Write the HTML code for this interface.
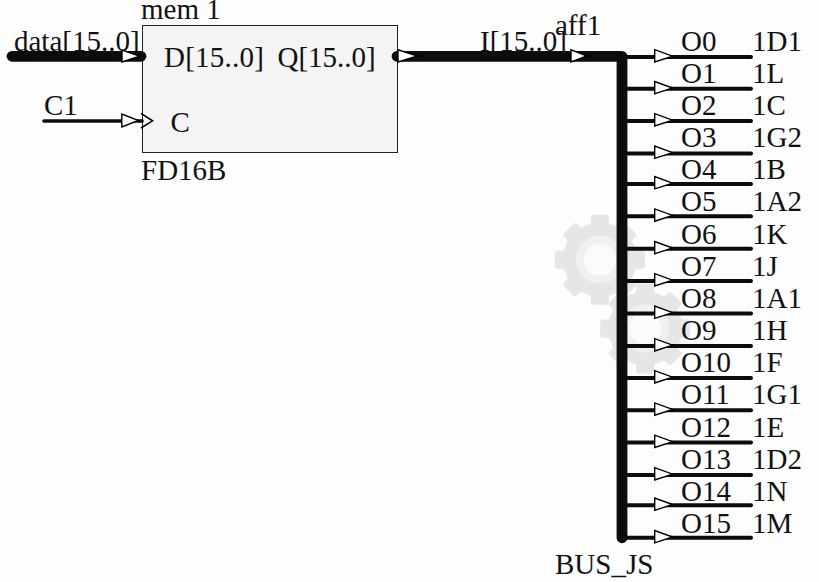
<!DOCTYPE html>
<html><head><meta charset="utf-8"><style>
html,body{margin:0;padding:0;background:#fdfdfd;overflow:hidden;width:819px;height:582px;}
svg{display:block;}
text{font-family:"Liberation Serif",serif;font-size:29px;fill:#111;}
.w{stroke:#0c0c0c;stroke-width:4;stroke-linecap:round;}
.bus{stroke:#0c0c0c;stroke-width:10.8;stroke-linecap:round;fill:none;stroke-linejoin:round;}
.tri{fill:#fff;stroke:#000;stroke-width:1.4;stroke-linejoin:miter;}
</style></head><body>
<svg width="819" height="582" viewBox="0 0 819 582">
<defs><filter id="bl" x="-10%" y="-10%" width="120%" height="120%"><feGaussianBlur stdDeviation="0.45"/></filter></defs>
<g filter="url(#bl)">
<g fill="#e6e6e6">
<path d="M564.41,249.26 L564.16,249.80 L563.91,250.10 L563.44,250.46 L562.88,250.66 L562.49,250.70 L557.38,250.70 L556.86,250.76 L556.40,250.91 L555.78,251.30 L555.30,251.85 L555.00,252.52 L554.90,253.22 L554.90,266.18 L554.96,266.74 L555.17,267.33 L555.44,267.75 L555.85,268.16 L556.40,268.49 L556.86,268.64 L557.42,268.70 L562.68,268.71 L563.26,268.86 L563.77,269.16 L564.04,269.44 L564.34,269.96 L565.05,272.14 L565.71,273.84 L566.46,275.54 L567.57,277.78 L567.65,278.16 L567.66,278.56 L567.52,279.14 L567.33,279.49 L567.08,279.79 L564.17,282.70 L563.73,283.31 L563.55,283.77 L563.46,284.40 L563.52,284.98 L563.73,285.58 L563.91,285.88 L564.21,286.23 L573.37,295.39 L573.80,295.75 L574.24,295.97 L574.71,296.10 L575.35,296.13 L575.83,296.05 L576.37,295.82 L576.94,295.39 L579.96,292.39 L580.46,292.08 L580.84,291.97 L581.24,291.93 L581.63,291.98 L582.01,292.09 L584.06,293.14 L585.72,293.87 L587.46,294.55 L589.64,295.26 L590.00,295.44 L590.30,295.69 L590.56,295.99 L590.74,296.34 L590.89,296.92 L590.90,302.18 L590.94,302.64 L591.02,302.97 L591.30,303.55 L591.78,304.10 L592.27,304.43 L592.86,304.64 L593.42,304.70 L606.38,304.70 L606.94,304.64 L607.53,304.43 L608.02,304.10 L608.36,303.75 L608.63,303.33 L608.84,302.74 L608.90,302.18 L608.91,296.92 L609.06,296.34 L609.36,295.83 L609.64,295.56 L610.16,295.26 L612.34,294.55 L614.04,293.89 L615.74,293.14 L617.98,292.03 L618.36,291.95 L618.76,291.94 L619.15,292.02 L619.69,292.27 L619.99,292.52 L622.90,295.43 L623.22,295.69 L623.65,295.93 L624.21,296.10 L624.84,296.13 L625.42,296.02 L626.08,295.69 L626.43,295.39 L635.59,286.23 L635.95,285.80 L636.17,285.36 L636.32,284.74 L636.33,284.25 L636.22,283.68 L636.02,283.23 L635.59,282.66 L632.59,279.64 L632.37,279.32 L632.22,278.95 L632.13,278.36 L632.18,277.97 L632.29,277.59 L633.34,275.54 L634.07,273.88 L634.75,272.14 L635.46,269.96 L635.64,269.60 L635.89,269.30 L636.19,269.04 L636.73,268.79 L637.12,268.71 L642.38,268.70 L642.84,268.66 L643.17,268.58 L643.75,268.30 L644.30,267.82 L644.63,267.33 L644.84,266.74 L644.90,266.18 L644.90,253.22 L644.84,252.66 L644.63,252.07 L644.30,251.58 L643.95,251.24 L643.40,250.91 L642.94,250.76 L642.38,250.70 L637.12,250.69 L636.54,250.54 L636.03,250.24 L635.64,249.80 L635.46,249.44 L634.75,247.26 L634.09,245.56 L633.34,243.86 L632.23,241.62 L632.13,241.04 L632.17,240.64 L632.28,240.26 L632.47,239.91 L632.72,239.61 L635.63,236.70 L635.89,236.38 L636.13,235.95 L636.30,235.39 L636.33,234.76 L636.22,234.18 L635.89,233.52 L635.59,233.17 L626.43,224.01 L626.00,223.65 L625.56,223.43 L625.09,223.30 L624.45,223.27 L623.97,223.35 L623.43,223.58 L622.86,224.01 L619.84,227.01 L619.34,227.32 L618.96,227.43 L618.56,227.47 L618.17,227.42 L617.79,227.31 L615.74,226.26 L614.08,225.53 L612.34,224.85 L610.16,224.14 L609.80,223.96 L609.50,223.71 L609.14,223.24 L608.99,222.87 L608.91,222.48 L608.90,217.22 L608.86,216.76 L608.78,216.43 L608.45,215.77 L608.02,215.30 L607.53,214.97 L606.94,214.76 L606.38,214.70 L593.42,214.70 L592.86,214.76 L592.27,214.97 L591.85,215.24 L591.44,215.65 L591.17,216.07 L590.96,216.66 L590.90,217.22 L590.89,222.48 L590.74,223.06 L590.44,223.57 L590.16,223.84 L589.64,224.14 L587.46,224.85 L585.76,225.51 L584.06,226.26 L581.82,227.37 L581.44,227.45 L581.04,227.46 L580.46,227.32 L580.11,227.13 L579.81,226.88 L576.90,223.97 L576.58,223.71 L576.15,223.47 L575.59,223.30 L574.86,223.28 L574.15,223.47 L573.60,223.80 L564.21,233.17 L563.85,233.60 L563.63,234.04 L563.48,234.66 L563.47,235.15 L563.58,235.72 L563.78,236.17 L564.21,236.74 L567.21,239.76 L567.52,240.26 L567.66,240.84 L567.65,241.24 L567.51,241.81 L566.46,243.86 L565.73,245.52 L565.05,247.26 L564.41,249.26Z"/>
<path d="M609.71,318.06 L609.46,318.60 L609.07,319.04 L608.56,319.34 L608.18,319.46 L607.79,319.50 L602.68,319.50 L602.16,319.56 L601.70,319.71 L601.08,320.10 L600.60,320.65 L600.30,321.32 L600.20,322.02 L600.20,334.98 L600.26,335.54 L600.47,336.13 L600.74,336.55 L601.15,336.96 L601.70,337.29 L602.16,337.44 L602.72,337.50 L607.98,337.51 L608.56,337.66 L609.07,337.96 L609.34,338.24 L609.64,338.76 L610.35,340.94 L611.01,342.64 L611.76,344.34 L612.87,346.58 L612.95,346.96 L612.93,347.56 L612.82,347.94 L612.63,348.29 L612.38,348.59 L609.47,351.50 L609.03,352.11 L608.85,352.57 L608.76,353.20 L608.82,353.78 L609.03,354.38 L609.21,354.68 L609.51,355.03 L618.67,364.19 L619.10,364.55 L619.54,364.77 L620.01,364.90 L620.65,364.93 L621.13,364.85 L621.67,364.62 L622.24,364.19 L625.26,361.19 L625.76,360.88 L626.14,360.77 L626.54,360.73 L626.93,360.78 L627.31,360.89 L629.36,361.94 L631.02,362.67 L632.76,363.35 L634.94,364.06 L635.30,364.24 L635.60,364.49 L635.86,364.79 L636.04,365.14 L636.19,365.72 L636.20,370.98 L636.24,371.44 L636.32,371.77 L636.60,372.35 L637.08,372.90 L637.57,373.23 L638.16,373.44 L638.72,373.50 L651.68,373.50 L652.24,373.44 L652.83,373.23 L653.32,372.90 L653.66,372.55 L653.93,372.13 L654.14,371.54 L654.20,370.98 L654.21,365.72 L654.36,365.14 L654.66,364.63 L655.10,364.24 L655.46,364.06 L657.64,363.35 L659.34,362.69 L661.04,361.94 L663.28,360.83 L663.86,360.73 L664.26,360.77 L664.64,360.88 L664.99,361.07 L665.29,361.32 L668.20,364.23 L668.52,364.49 L668.95,364.73 L669.51,364.90 L670.14,364.93 L670.72,364.82 L671.38,364.49 L671.73,364.19 L680.89,355.03 L681.25,354.60 L681.47,354.16 L681.62,353.54 L681.63,353.05 L681.52,352.48 L681.32,352.03 L680.89,351.46 L677.89,348.44 L677.67,348.12 L677.52,347.75 L677.43,347.16 L677.48,346.77 L677.59,346.39 L678.64,344.34 L679.37,342.68 L680.05,340.94 L680.76,338.76 L680.94,338.40 L681.19,338.10 L681.49,337.84 L682.03,337.59 L682.42,337.51 L687.68,337.50 L688.14,337.46 L688.47,337.38 L689.05,337.10 L689.60,336.62 L689.93,336.13 L690.14,335.54 L690.20,334.98 L690.20,322.02 L690.14,321.46 L689.93,320.87 L689.66,320.45 L689.25,320.04 L688.70,319.71 L688.24,319.56 L687.68,319.50 L682.42,319.49 L681.84,319.34 L681.33,319.04 L681.06,318.76 L680.76,318.24 L680.05,316.06 L679.39,314.36 L678.64,312.66 L677.53,310.42 L677.45,310.04 L677.44,309.64 L677.58,309.06 L677.77,308.71 L678.02,308.41 L680.93,305.50 L681.19,305.18 L681.43,304.75 L681.62,304.04 L681.62,303.46 L681.47,302.84 L681.19,302.32 L680.89,301.97 L671.73,292.81 L671.30,292.45 L670.86,292.23 L670.39,292.10 L669.75,292.07 L669.27,292.15 L668.73,292.38 L668.16,292.81 L665.14,295.81 L664.64,296.12 L664.26,296.23 L663.86,296.27 L663.47,296.22 L663.09,296.11 L661.04,295.06 L659.38,294.33 L657.64,293.65 L655.46,292.94 L655.10,292.76 L654.80,292.51 L654.54,292.21 L654.29,291.67 L654.21,291.28 L654.20,286.02 L654.16,285.56 L654.08,285.23 L653.80,284.65 L653.32,284.10 L652.83,283.77 L652.24,283.56 L651.68,283.50 L638.72,283.50 L638.16,283.56 L637.57,283.77 L637.08,284.10 L636.74,284.45 L636.47,284.87 L636.26,285.46 L636.20,286.02 L636.19,291.28 L636.04,291.86 L635.74,292.37 L635.30,292.76 L634.94,292.94 L632.76,293.65 L631.06,294.31 L629.36,295.06 L627.12,296.17 L626.54,296.27 L626.14,296.23 L625.76,296.12 L625.41,295.93 L625.11,295.68 L622.20,292.77 L621.88,292.51 L621.45,292.27 L620.89,292.10 L620.16,292.08 L619.54,292.23 L618.90,292.60 L609.51,301.97 L609.15,302.40 L608.93,302.84 L608.78,303.46 L608.77,303.95 L608.88,304.52 L609.08,304.97 L609.51,305.54 L612.51,308.56 L612.82,309.06 L612.96,309.64 L612.95,310.04 L612.81,310.61 L611.76,312.66 L611.03,314.32 L610.35,316.06 L609.71,318.06Z"/>
</g>
<circle cx="599.9" cy="259.7" r="24" fill="#f0f0f0"/>
<circle cx="599.9" cy="259.7" r="16" fill="#fbfbfb"/>
<circle cx="645.2" cy="328.5" r="24" fill="#f0f0f0"/>
<circle cx="645.2" cy="328.5" r="16" fill="#fbfbfb"/>
</g>
<!-- box -->
<rect x="142.5" y="25.5" width="255" height="127" fill="#f4f4f4" stroke="#222" stroke-width="1"/>
<text x="141" y="18.5">mem 1</text>
<text x="164" y="67" letter-spacing="0.25">D[15..0]</text>
<text x="277.5" y="67">Q[15..0]</text>
<text x="170.5" y="132">C</text>
<text x="141" y="179.5">FD16B</text>
<!-- data input -->
<text x="14" y="50.7">data[15..0]</text>
<line x1="12" y1="56.3" x2="141" y2="56.3" class="bus"/>
<polygon points="122,50 122,62 139.5,56.2" class="tri"/>
<!-- C1 -->
<text x="44" y="114.7">C1</text>
<line x1="44" y1="121" x2="142" y2="121" class="w" style="stroke-width:3.6"/>
<polygon points="121.8,114 121.8,127 138.5,120.5" class="tri"/>
<polyline points="141,113.4 152.6,120.8 141,128" fill="none" stroke="#000" stroke-width="1.5"/>
<!-- output bus -->
<polyline points="397,56.3 622,56.3 622,537.8" class="bus"/>
<polygon points="398,49.8 398,62 417.5,56" class="tri"/>
<polygon points="571,49.8 571,62 587,56" class="tri"/>
<text x="480" y="50.7">I[15..0]</text>
<text x="555" y="35">aff1</text>
<line x1="622" y1="57.00" x2="751" y2="57.00" class="w"/>
<polygon points="654.7,49.70 654.7,62.00 672.6,56.20" class="tri"/>
<text x="681" y="50.70">O0</text>
<text x="752" y="50.70">1D1</text>
<line x1="622" y1="88.80" x2="751" y2="88.80" class="w"/>
<polygon points="654.7,81.50 654.7,93.80 672.6,88.00" class="tri"/>
<text x="681" y="82.85">O1</text>
<text x="752" y="82.85">1L</text>
<line x1="622" y1="121.00" x2="751" y2="121.00" class="w"/>
<polygon points="654.7,113.70 654.7,126.00 672.6,120.20" class="tri"/>
<text x="681" y="115.00">O2</text>
<text x="752" y="115.00">1C</text>
<line x1="622" y1="153.40" x2="751" y2="153.40" class="w"/>
<polygon points="654.7,146.10 654.7,158.40 672.6,152.60" class="tri"/>
<text x="681" y="147.15">O3</text>
<text x="752" y="147.15">1G2</text>
<line x1="622" y1="183.90" x2="751" y2="183.90" class="w"/>
<polygon points="654.7,176.60 654.7,188.90 672.6,183.10" class="tri"/>
<text x="681" y="179.30">O4</text>
<text x="752" y="179.30">1B</text>
<line x1="622" y1="216.20" x2="751" y2="216.20" class="w"/>
<polygon points="654.7,208.90 654.7,221.20 672.6,215.40" class="tri"/>
<text x="681" y="211.45">O5</text>
<text x="752" y="211.45">1A2</text>
<line x1="622" y1="248.80" x2="751" y2="248.80" class="w"/>
<polygon points="654.7,241.50 654.7,253.80 672.6,248.00" class="tri"/>
<text x="681" y="243.60">O6</text>
<text x="752" y="243.60">1K</text>
<line x1="622" y1="281.00" x2="751" y2="281.00" class="w"/>
<polygon points="654.7,273.70 654.7,286.00 672.6,280.20" class="tri"/>
<text x="681" y="275.75">O7</text>
<text x="752" y="275.75">1J</text>
<line x1="622" y1="313.40" x2="751" y2="313.40" class="w"/>
<polygon points="654.7,306.10 654.7,318.40 672.6,312.60" class="tri"/>
<text x="681" y="307.90">O8</text>
<text x="752" y="307.90">1A1</text>
<line x1="622" y1="346.00" x2="751" y2="346.00" class="w"/>
<polygon points="654.7,338.70 654.7,351.00 672.6,345.20" class="tri"/>
<text x="681" y="340.05">O9</text>
<text x="752" y="340.05">1H</text>
<line x1="622" y1="378.00" x2="751" y2="378.00" class="w"/>
<polygon points="654.7,370.70 654.7,383.00 672.6,377.20" class="tri"/>
<text x="681" y="372.20">O10</text>
<text x="752" y="372.20">1F</text>
<line x1="622" y1="410.20" x2="751" y2="410.20" class="w"/>
<polygon points="654.7,402.90 654.7,415.20 672.6,409.40" class="tri"/>
<text x="681" y="404.35">O11</text>
<text x="752" y="404.35">1G1</text>
<line x1="622" y1="442.50" x2="751" y2="442.50" class="w"/>
<polygon points="654.7,435.20 654.7,447.50 672.6,441.70" class="tri"/>
<text x="681" y="436.50">O12</text>
<text x="752" y="436.50">1E</text>
<line x1="622" y1="475.00" x2="751" y2="475.00" class="w"/>
<polygon points="654.7,467.70 654.7,480.00 672.6,474.20" class="tri"/>
<text x="681" y="468.65">O13</text>
<text x="752" y="468.65">1D2</text>
<line x1="622" y1="505.30" x2="751" y2="505.30" class="w"/>
<polygon points="654.7,498.00 654.7,510.30 672.6,504.50" class="tri"/>
<text x="681" y="500.80">O14</text>
<text x="752" y="500.80">1N</text>
<line x1="622" y1="537.80" x2="751" y2="537.80" class="w"/>
<polygon points="654.7,530.50 654.7,542.80 672.6,537.00" class="tri"/>
<text x="681" y="532.95">O15</text>
<text x="752" y="532.95">1M</text>
<text x="555" y="574">BUS_JS</text>
</svg>
</body></html>
